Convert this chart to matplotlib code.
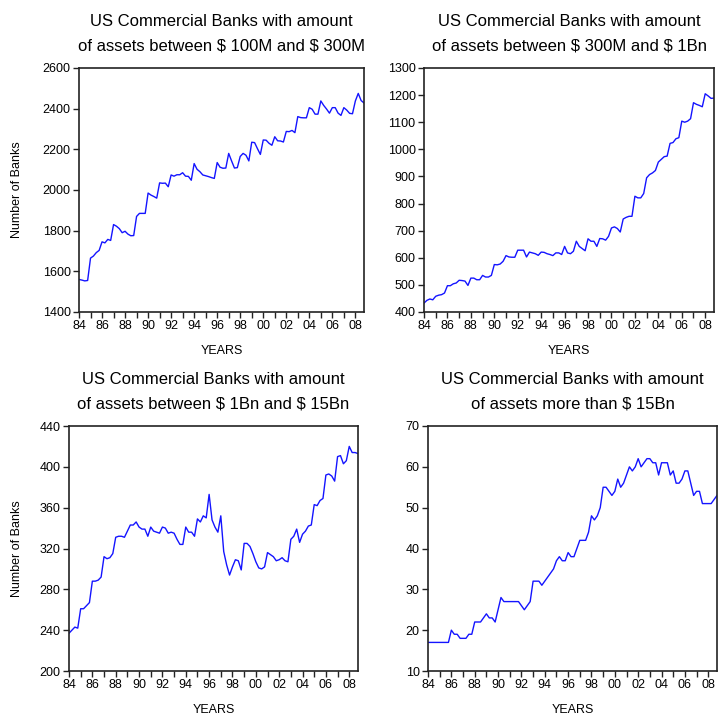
import numpy as np
import matplotlib
matplotlib.use("Agg")
import matplotlib.pyplot as plt

plt.rcParams["font.family"] = ["Liberation Sans", "DejaVu Sans"]

# quarterly counts, 1984Q1 .. 2008Q4
banks_100m_300m = [
    1560, 1557, 1553, 1555,
    1665, 1675, 1692, 1703,
    1745, 1740, 1757, 1752,
    1830, 1822, 1810, 1790,
    1797, 1783, 1775, 1776,
    1870, 1885, 1885, 1885,
    1985, 1975, 1968, 1960,
    2035, 2033, 2034, 2016,
    2074, 2068, 2075, 2075,
    2085, 2068, 2067, 2048,
    2130, 2102, 2090, 2074,
    2070, 2066, 2061, 2057,
    2135, 2112, 2107, 2108,
    2180, 2143, 2108, 2110,
    2165, 2180, 2171, 2143,
    2235, 2233, 2203, 2175,
    2246, 2245, 2230, 2220,
    2262, 2242, 2241, 2236,
    2288, 2287, 2293, 2282,
    2361, 2356, 2355, 2355,
    2405, 2397, 2373, 2373,
    2438, 2416, 2398, 2378,
    2405, 2405, 2378, 2367,
    2405, 2393, 2377, 2375,
    2438, 2475, 2440, 2428,
]

banks_300m_1bn = [
    433, 443, 448, 445,
    458, 462, 464, 470,
    497, 497, 504, 507,
    517, 516, 514, 498,
    525, 525, 519, 519,
    535, 529, 529, 535,
    575, 574, 577, 587,
    608, 603, 602, 602,
    628, 628, 628, 603,
    621, 618, 615, 609,
    621, 620, 615, 612,
    608, 618, 618, 612,
    642, 618, 615, 624,
    661, 642, 634, 626,
    670, 661, 661, 642,
    671, 670, 665, 679,
    710, 714, 708, 695,
    743, 749, 753, 753,
    827, 821, 821, 837,
    895, 907, 913, 922,
    953, 963, 973, 975,
    1022, 1025, 1039, 1043,
    1104, 1100, 1104, 1113,
    1172, 1166, 1162, 1157,
    1205, 1197, 1188, 1189,
]

banks_1bn_15bn = [
    237, 240, 243, 242,
    261, 261, 264, 267,
    288, 288, 289, 292,
    312, 310, 311, 315,
    331, 332, 332, 331,
    337, 343, 343, 346,
    341, 339, 339, 332,
    341, 337, 336, 335,
    341, 340, 335, 336,
    335, 329, 324, 324,
    341, 336, 336, 332,
    349, 346, 352, 350,
    373, 348, 341, 336,
    352, 317, 304, 294,
    302, 309, 308, 299,
    325, 325, 322, 315,
    307, 301, 300, 302,
    316, 314, 312, 308,
    309, 311, 308, 307,
    329, 332, 339, 326,
    334, 337, 342, 343,
    363, 362, 367, 369,
    392, 393, 391, 386,
    410, 411, 403, 406,
    420, 414, 414, 413,
]

banks_over_15bn = [
    17, 17, 17, 17,
    17, 17, 17, 17,
    20, 19, 19, 18,
    18, 18, 19, 19,
    22, 22, 22, 23,
    24, 23, 23, 22,
    25, 28, 27, 27,
    27, 27, 27, 27,
    26, 25, 26, 27,
    32, 32, 32, 31,
    32, 33, 34, 35,
    37, 38, 37, 37,
    39, 38, 38, 40,
    42, 42, 42, 44,
    48, 47, 48, 50,
    55, 55, 54, 53,
    54, 57, 55, 56,
    58, 60, 59, 60,
    62, 60, 61, 62,
    62, 61, 61, 58,
    61, 61, 61, 58,
    59, 56, 56, 57,
    59, 59, 56, 53,
    54, 54, 51, 51,
    51, 51, 52, 53,
]

title_top = "US Commercial Banks with amount"
subtitles = [
    r"of assets between \$ 100M and \$ 300M",
    r"of assets between \$ 300M and \$ 1Bn",
    r"of assets between \$ 1Bn and \$ 15Bn",
    r"of assets more than \$ 15Bn",
]
y_ranges = [(1400, 2600, 200), (400, 1300, 100), (200, 440, 40), (10, 70, 10)]
year_labels = [f"{y % 100:02d}" if (y - 1984) % 2 == 0 else "" for y in range(1984, 2009)]

W, H = 721, 722
# axes boxes in pixels: left, top, right, bottom
boxes = [(79, 68, 364, 312), (424, 68, 714, 312), (69, 426, 358, 671), (428, 426, 717, 671)]
series = [banks_100m_300m, banks_300m_1bn, banks_1bn_15bn, banks_over_15bn]

fig = plt.figure(figsize=(W / 100, H / 100), dpi=100)

for k, (box, vals, sub, yr) in enumerate(zip(boxes, series, subtitles, y_ranges)):
    l, t, r, b = box
    ax = fig.add_axes([l / W, (H - b) / H, (r - l) / W, (b - t) / H])
    x = 1984 + np.arange(len(vals)) / 4.0
    ax.plot(x, vals, color="#1414ff", lw=1.0)
    ax.set_xlim(1984, x[-1])
    ax.set_ylim(yr[0], yr[1])
    ax.set_yticks(np.arange(yr[0], yr[1] + 1, yr[2]))
    ax.set_xticks(range(1984, 2009))
    ax.set_xticklabels(year_labels)
    ax.tick_params(direction="out", length=4, width=1, labelsize=9, pad=2, color="#222222")
    for side in ["left", "bottom", "top", "right"]:
        ax.spines[side].set_linewidth(1.2)
        ax.spines[side].set_color("#222222")

    cx = (l + r) / 2
    fig.text(cx / W, 1 - (t - 47) / H, title_top, ha="center", va="center", fontsize=12)
    fig.text(cx / W, 1 - (t - 22) / H, sub, ha="center", va="center", fontsize=12)
    fig.text(cx / W, 1 - (b + 39) / H, "YEARS", ha="center", va="center", fontsize=9)
    if k % 2 == 0:
        fig.text(17 / W, 1 - ((t + b) / 2) / H, "Number of Banks", rotation=90,
                 ha="center", va="center", fontsize=9)

fig.savefig("out.png", dpi=100)
